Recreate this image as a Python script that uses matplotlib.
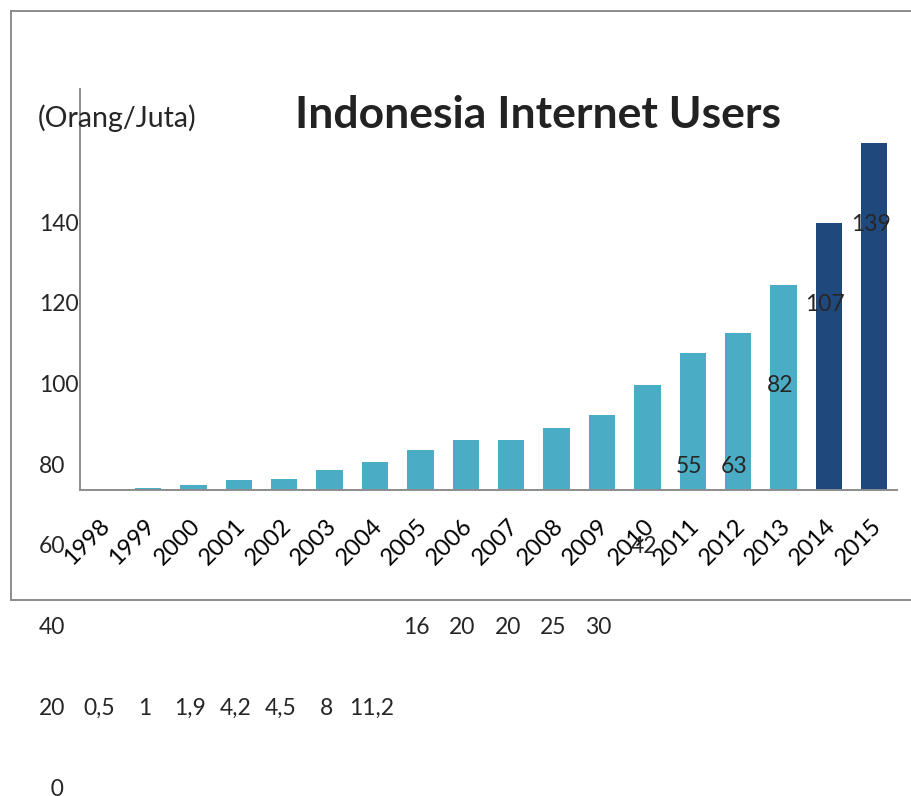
import matplotlib.pyplot as plt
from matplotlib.transforms import blended_transform_factory, ScaledTranslation

plt.rcParams['font.family'] = ['Lato', 'DejaVu Sans']

# data
tahun = ['1998', '1999', '2000', '2001', '2002', '2003', '2004', '2005', '2006',
         '2007', '2008', '2009', '2010', '2011', '2012', '2013', '2014', '2015']
pengguna = [0.5, 1, 1.9, 4.2, 4.5, 8, 11.2, 16, 20, 20, 25, 30, 42, 55, 63, 82, 107, 139]
# row of the (misplaced) value labels on the 0-140 scale
baris_label = [20, 20, 20, 20, 20, 20, 20, 40, 40, 40, 40, 40, 60, 80, 80, 100, 120, 140]
skala_y = [0, 20, 40, 60, 80, 100, 120, 140]

W, H = 912, 796
fig = plt.figure(figsize=(W / 100, H / 100), dpi=100)

# chart area border
frame = fig.add_axes([11 / W, (H - 600) / H, 1, (600 - 11) / H])
frame.set_xticks([])
frame.set_yticks([])
for s in frame.spines.values():
    s.set_color('#8c8c8c')
    s.set_linewidth(1.4)

# bars
ax = fig.add_axes([80 / W, (H - 490) / H, 817 / W, 401 / H])
warna = ['#1f497d' if int(t) >= 2014 else '#4bacc6' for t in tahun]
ax.bar(range(len(tahun)), pengguna, width=0.58, color=warna)
ax.set_xlim(-0.5, len(tahun) - 0.5)
ax.set_ylim(0, 160.4)
ax.patch.set_alpha(0)
for s in ['top', 'right']:
    ax.spines[s].set_visible(False)
for s in ['left', 'bottom']:
    ax.spines[s].set_color('#8c8c8c')
    ax.spines[s].set_linewidth(1.4)
ax.set_yticks([])
ax.set_xticks(range(len(tahun)))
ax.set_xticklabels(tahun, rotation=45, ha='right', fontsize=17, color='black')
ax.tick_params(axis='x', length=0, pad=18)
geser = ScaledTranslation(0.11, 0, fig.dpi_scale_trans)
for lab in ax.get_xticklabels():
    lab.set_transform(lab.get_transform() + geser)

# overlay in pixel / label-scale coordinates
ax2 = fig.add_axes([0, 0, 1, 1])
ax2.set_xlim(0, W)
ax2.set_ylim(-9 / 4.0357, (H - 9) / 4.0357)
ax2.axis('off')
ax2.patch.set_alpha(0)

for v in skala_y:
    lbl = str(v) if v > 0 else '  0'
    ax2.text(39, v, lbl, ha='left', va='center_baseline', fontsize=16.5, color='#262626')

trans = blended_transform_factory(ax.transData, ax2.transData)
for i, (v, r) in enumerate(zip(pengguna, baris_label)):
    teks = str(v).replace('.', ',') if v != int(v) else str(int(v))
    ax2.text(i - 0.08, r, teks, transform=trans, ha='center', va='center_baseline',
             fontsize=16.5, color='#262626')

fig.text(38 / W, 1 - 118 / H, '(Orang/Juta)', ha='left', va='center',
         fontsize=20.5, color='#262626')
fig.text(538 / W, 1 - 115 / H, 'Indonesia Internet Users', ha='center', va='center',
         fontsize=32, fontweight='bold', color='#222222')

fig.savefig('out.png', dpi=100)
